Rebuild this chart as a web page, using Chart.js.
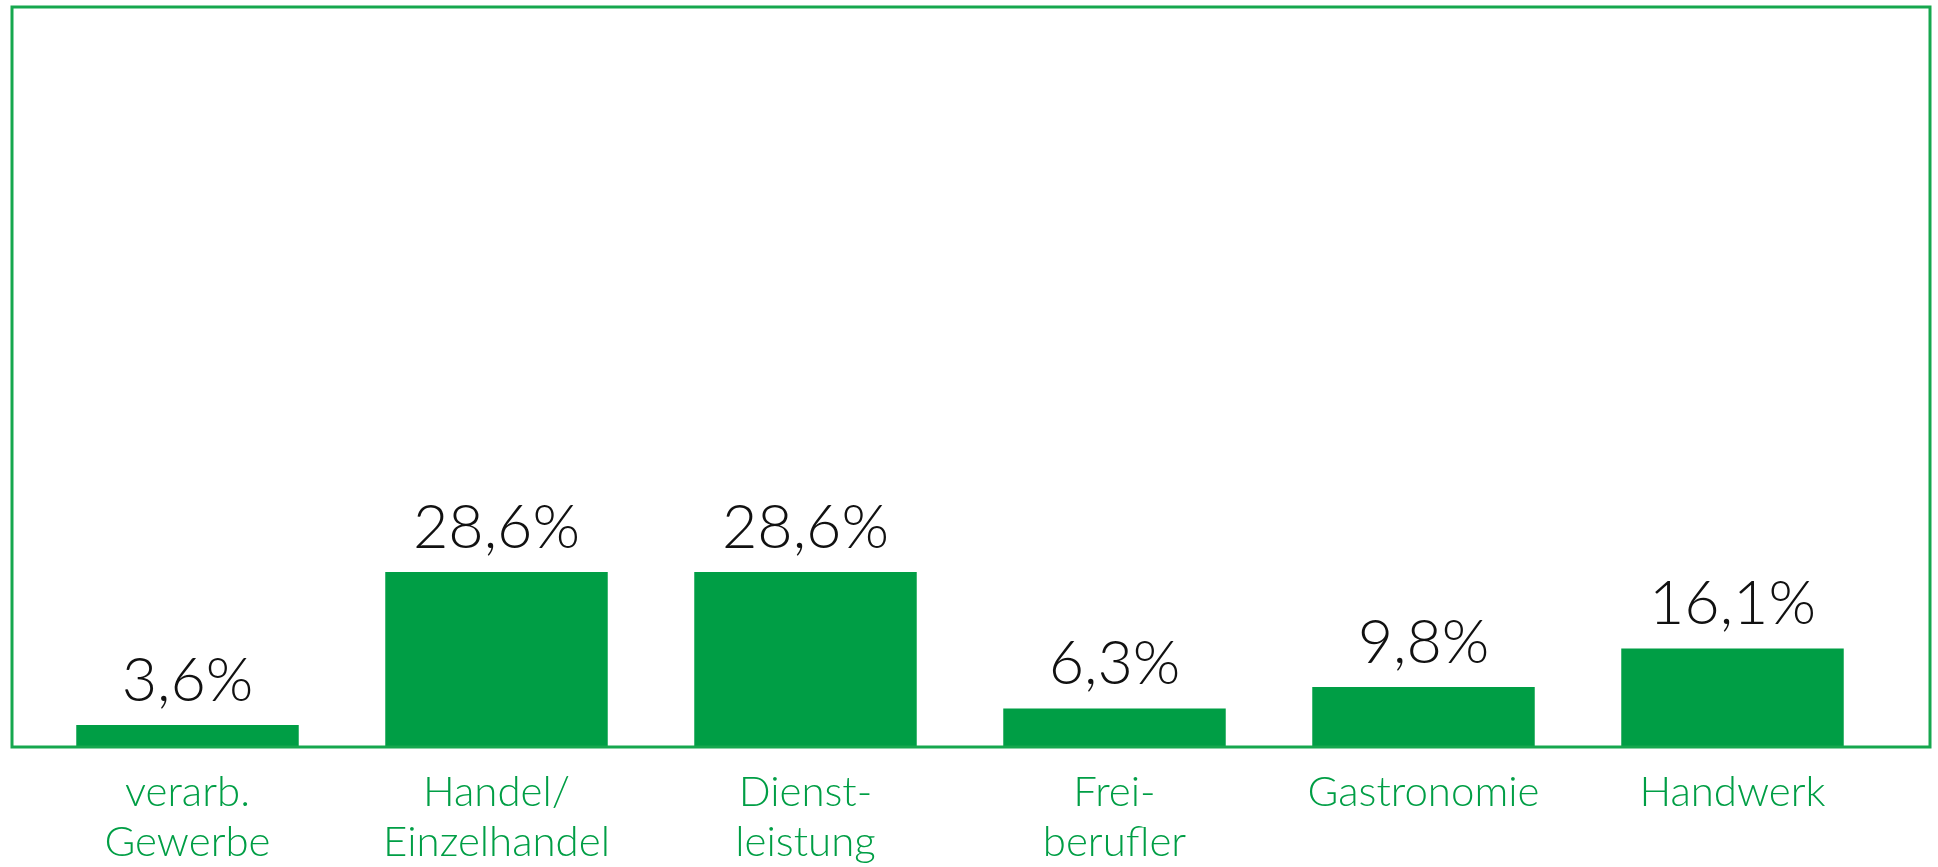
<!DOCTYPE html>
<html>
<head>
<meta charset="utf-8">
<script src="https://cdn.jsdelivr.net/npm/chart.js@4"></script>
<style>
  html, body { margin: 0; padding: 0; background: #fff; }
  #wrap { width: 1938px; height: 867px; }
</style>
</head>
<body>
<div id="wrap"><canvas id="branchenChart"></canvas></div>
<script>
// Data
var categories = [
    ['verarb.', 'Gewerbe'],
    ['Handel/', 'Einzelhandel'],
    ['Dienst-', 'leistung'],
    ['Frei-', 'berufler'],
    ['Gastronomie'],
    ['Handwerk']
];
var shares = [3.6, 28.6, 28.6, 6.3, 9.8, 16.1];

var green = '#009e45';
var frameGreen = '#16a74e';

// Draw the value above each bar
var valueLabels = {
    id: 'valueLabels',
    afterDatasetsDraw: function(chart) {
        var ctx = chart.ctx;
        var meta = chart.getDatasetMeta(0);
        ctx.save();
        ctx.font = '300 61px Lato, "Open Sans", sans-serif';
        ctx.fillStyle = '#111';
        ctx.textAlign = 'center';
        ctx.textBaseline = 'alphabetic';
        meta.data.forEach(function(bar, i) {
            var txt = shares[i].toFixed(1).replace('.', ',') + '%';
            ctx.fillText(txt, bar.x, bar.y - 24);
        });
        ctx.restore();
    }
};

// Green frame around the plot
var frame = {
    id: 'frame',
    afterDraw: function(chart) {
        var a = chart.chartArea;
        var ctx = chart.ctx;
        ctx.save();
        ctx.strokeStyle = frameGreen;
        ctx.lineWidth = 3;
        ctx.strokeRect(a.left - 21, a.top, (a.right + 43) - (a.left - 21), a.bottom - a.top);
        ctx.restore();
    }
};

var ctx = document.getElementById('branchenChart').getContext('2d');
new Chart(ctx, {
    type: 'bar',
    data: {
        labels: categories,
        datasets: [{
            data: shares,
            backgroundColor: green,
            borderWidth: 0,
            barPercentage: 0.72,
            categoryPercentage: 1.0
        }]
    },
    options: {
        responsive: true,
        maintainAspectRatio: false,
        animation: false,
        layout: {
            padding: { left: 33, right: 51, top: 7, bottom: 0 }
        },
        plugins: {
            legend: { display: false },
            tooltip: { enabled: false }
        },
        scales: {
            x: {
                grid: { display: false },
                border: { display: false },
                ticks: {
                    color: green,
                    padding: 12,
                    maxRotation: 0,
                    autoSkip: false,
                    font: { family: 'Lato, "Open Sans", sans-serif', size: 42, weight: '300', lineHeight: 1.2 }
                },
                afterFit: function(scale) { scale.height = 120; }
            },
            y: {
                display: false,
                min: 0,
                max: 120.9
            }
        }
    },
    plugins: [valueLabels, frame]
});
</script>
</body>
</html>
